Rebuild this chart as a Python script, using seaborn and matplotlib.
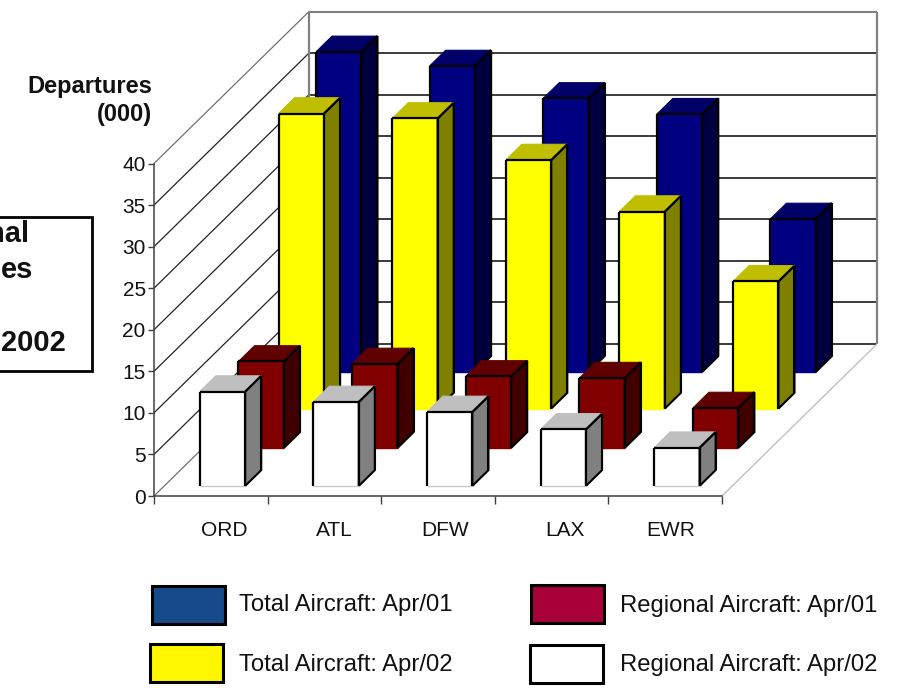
import matplotlib
matplotlib.use("Agg")
import matplotlib.pyplot as plt
from matplotlib.patches import Polygon, Rectangle
from matplotlib.transforms import Affine2D
from matplotlib import font_manager as fm
import pandas as pd
import seaborn as sns

airports = ["ORD", "ATL", "DFW", "LAX", "EWR"]
total_apr01 = [38.5, 36.8, 32.9, 31.0, 18.4]
total_apr02 = [35.5, 34.9, 29.9, 23.7, 15.3]
regional_apr01 = [10.4, 10.1, 8.6, 8.4, 4.8]
regional_apr02 = [11.35, 10.1, 8.9, 6.8, 4.6]
y_ticks = [0, 5, 10, 15, 20, 25, 30, 35, 40]

# back to front: values, slot, front colour, side colour, top colour
series = [
    (total_apr01, 3, "#000080", "#000040", "#000068"),
    (total_apr02, 2.035, "#FFFF00", "#808000", "#BFBF00"),
    (regional_apr01, 1, "#800000", "#400000", "#600000"),
    (regional_apr02, 0, "#FFFFFF", "#808080", "#BFBFBF"),
]
legend_items = [
    ("Total Aircraft: Apr/01", "#154B8A", 152, 586, 239, 605),
    ("Total Aircraft: Apr/02", "#FFF700", 150, 644, 239, 665),
    ("Regional Aircraft: Apr/01", "#A80038", 531, 585, 620, 606),
    ("Regional Aircraft: Apr/02", "#FFFFFF", 530, 645, 620, 665),
]
label_nudges = [13, 10, 7, 13, 5]

W, H = 899, 688
sns.set_theme(style="white")
names = {f.name for f in fm.fontManager.ttflist}
narrow = "Liberation Sans Narrow" if "Liberation Sans Narrow" in names else "Liberation Sans"
plt.rcParams["font.family"] = ["Liberation Sans", "DejaVu Sans"]

fig = plt.figure(figsize=(W / 100, H / 100), dpi=100, facecolor="white")
ax = fig.add_axes([154 / W, (H - 496) / H, 568 / W, 332.5 / H])
ax.patch.set_alpha(0)

SLOT_X = 38.75 / (568 / 5)      # depth slot in category units
SLOT_Y = 38.0 / (332.5 / 40)    # depth slot in value units
BAR_START = 0.265
BAR_DEPTH = 0.415
NUDGE = 0.012


def proj(x, v, d):
    return x + d * SLOT_X, v + d * SLOT_Y


def seg(p, q, **kw):
    a, b = proj(*p), proj(*q)
    ax.plot([a[0], b[0]], [a[1], b[1]], clip_on=False, solid_capstyle="butt", **kw)


for k, (vals, slot, face, side, top) in enumerate(series):
    df = pd.DataFrame({"airport": airports, "departures": vals})
    n0 = len(ax.patches)
    sns.barplot(data=df, x="airport", y="departures", order=airports, color=face,
                saturation=1, width=0.4, linewidth=0, errorbar=None, ax=ax)
    z = 10 + k
    d0 = slot + BAR_START
    d1 = d0 + BAR_DEPTH
    for patch in ax.patches[n0:]:
        x0 = patch.get_x() + NUDGE
        x1 = x0 + patch.get_width()
        v = patch.get_height()
        patch.set_transform(Affine2D().translate(NUDGE + d0 * SLOT_X, d0 * SLOT_Y) + ax.transData)
        patch.set_clip_on(False)
        patch.set_zorder(z)
        sidep = [proj(x1, 0, d0), proj(x1, 0, d1), proj(x1, v, d1), proj(x1, v, d0)]
        topp = [proj(x0, v, d0), proj(x1, v, d0), proj(x1, v, d1), proj(x0, v, d1)]
        ax.add_patch(Polygon(sidep, closed=True, facecolor=side, edgecolor="black", lw=1.5,
                             joinstyle="miter", clip_on=False, zorder=z + 0.1))
        ax.add_patch(Polygon(topp, closed=True, facecolor=top, edgecolor=top, lw=0.8,
                             clip_on=False, zorder=z + 0.1))
        style = dict(color="black", lw=1.6, zorder=z + 0.2)
        seg((x0, 0, d0), (x1, 0, d0), color="#c8c8c8" if face == "#FFFFFF" else face, lw=1.0, zorder=z + 0.15)
        seg((x0, 0, d0), (x0, v, d0), **style)
        seg((x1, 0, d0), (x1, v, d0), **style)
        seg((x0, v, d0), (x1, v, d0), **style)
        seg((x1, v, d0), (x1, v, d1), **style)
        seg((x1, v, d1), (x1, 0, d1), color="black", lw=1.5, zorder=z + 0.2)

x_lo, x_hi = -0.5, 4.5
for v in y_ticks:
    edge = v in (0, 40)
    c_wall = "#808080" if v == 40 else "#1a1a1a"
    seg((x_lo, v, 0), (x_lo, v, 4), color="#707070" if edge else "#222222", lw=0.9, zorder=2)
    seg((x_lo, v, 4), (x_hi, v, 4), color=c_wall, lw=1.5 if v == 40 else 1.2, zorder=2)
seg((x_lo, 0, 4), (x_lo, 40, 4), color="#808080", lw=1.6, zorder=2)
seg((x_hi, 0, 4), (x_hi, 40, 4), color="#808080", lw=1.6, zorder=2)
seg((x_hi, 0, 0), (x_hi, 0, 4), color="#c0c0c0", lw=1.0, zorder=2)

ax.set_xlim(x_lo, x_hi)
ax.set_ylim(0, 40)
ax.set_xlabel("")
ax.set_ylabel("")
ax.set_yticks(y_ticks)
ax.set_xticks([x_lo + i for i in range(6)])
ax.set_xticklabels([])
ax.tick_params(axis="y", length=4.5, width=1, color="#404040", labelsize=15, pad=1.5, left=True)
ax.tick_params(axis="x", length=6, width=1, color="#404040", bottom=True)
for lab in ax.get_yticklabels():
    lab.set_fontfamily(narrow)
    lab.set_color("#111111")
for s in ("top", "right"):
    ax.spines[s].set_visible(False)
for s in ("left", "bottom"):
    ax.spines[s].set_color("#404040")
    ax.spines[s].set_linewidth(1.1)
for i, (name, off) in enumerate(zip(airports, label_nudges)):
    ax.annotate(name, (i, 0), xytext=(off, -35), textcoords="offset pixels", ha="center", va="center",
                fontsize=15, family=narrow, color="#111111", annotation_clip=False)

ov = fig.add_axes([0, 0, 1, 1])
ov.set_xlim(0, W)
ov.set_ylim(H, 0)
ov.axis("off")
ov.patch.set_alpha(0)
ov.text(152, 100.5, "Departures\n(000)", ha="right", va="center", fontsize=17, fontweight="bold",
        linespacing=1.3, color="#111111")
ov.add_patch(Rectangle((-6, 217), 98, 153.5, fill=False, edgecolor="black", lw=2.0))
for txt, right, yc in [("nal", 29, 234), ("es", 33, 270), ("2002", 66, 343)]:
    ov.text(right, yc, txt, ha="right", va="center", fontsize=21, fontweight="bold", color="#111111")
for txt, col, bx, by, tx, ty in legend_items:
    ov.add_patch(Rectangle((bx, by), 73, 38, facecolor=col, edgecolor="black", lw=2.2))
    ov.text(tx, ty, txt, ha="left", va="center", fontsize=17.2, family=narrow, color="#111111")

fig.savefig("out.png", dpi=100)
